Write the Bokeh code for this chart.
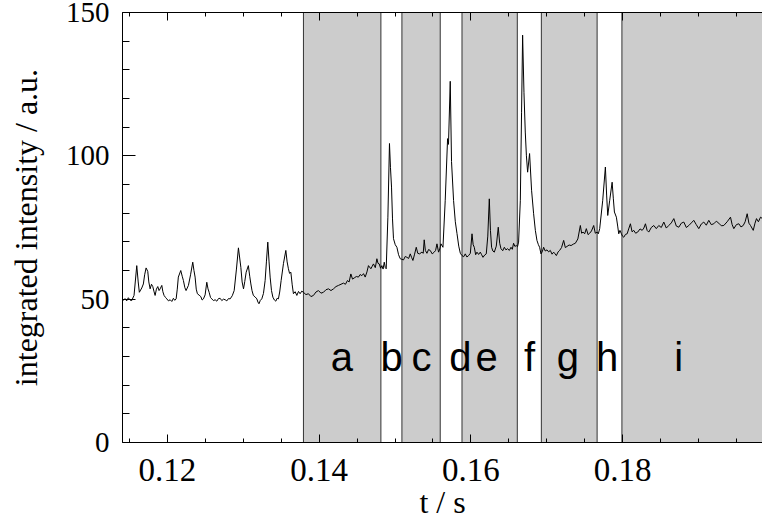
from bokeh.plotting import figure
from bokeh.models import Range1d, LinearAxis, SingleIntervalTicker
from bokeh.embed import file_html
from bokeh.resources import INLINE
from bokeh.core.properties import value

# time axis (s) and integrated intensity (a.u.)
t_s = [
    0.11397, 0.11419, 0.11441, 0.11463, 0.11485, 0.11507, 0.11529, 0.11560, 0.11596, 0.11615,
    0.11630, 0.11662, 0.11683, 0.11700, 0.11719, 0.11741, 0.11755, 0.11772, 0.11790, 0.11807,
    0.11822, 0.11838, 0.11855, 0.11873, 0.11890, 0.11904, 0.11926, 0.11940, 0.11956, 0.11975,
    0.11992, 0.12014, 0.12036, 0.12058, 0.12079, 0.12097, 0.12115, 0.12130, 0.12144, 0.12176,
    0.12195, 0.12211, 0.12230, 0.12246, 0.12277, 0.12305, 0.12334, 0.12350, 0.12365, 0.12380,
    0.12395, 0.12418, 0.12440, 0.12458, 0.12475, 0.12497, 0.12519, 0.12535, 0.12550, 0.12568,
    0.12585, 0.12607, 0.12629, 0.12651, 0.12673, 0.12695, 0.12717, 0.12739, 0.12761, 0.12783,
    0.12805, 0.12827, 0.12855, 0.12880, 0.12910, 0.12936, 0.12968, 0.12985, 0.13003, 0.13020,
    0.13038, 0.13067, 0.13085, 0.13100, 0.13115, 0.13133, 0.13155, 0.13179, 0.13193, 0.13207,
    0.13225, 0.13244, 0.13266, 0.13288, 0.13305, 0.13323, 0.13340, 0.13354, 0.13372, 0.13390,
    0.13410, 0.13429, 0.13446, 0.13463, 0.13480, 0.13499, 0.13530, 0.13561, 0.13578, 0.13595,
    0.13610, 0.13627, 0.13645, 0.13661, 0.13684, 0.13706, 0.13728, 0.13749, 0.13771, 0.13793,
    0.13826, 0.13859, 0.13892, 0.13925, 0.13958, 0.13991, 0.14024, 0.14057, 0.14090, 0.14123,
    0.14156, 0.14189, 0.14222, 0.14255, 0.14288, 0.14321, 0.14347, 0.14373, 0.14395, 0.14418,
    0.14440, 0.14462, 0.14490, 0.14518, 0.14540, 0.14563, 0.14585, 0.14607, 0.14630, 0.14650,
    0.14682, 0.14700, 0.14716, 0.14740, 0.14761, 0.14776, 0.14792, 0.14810, 0.14827, 0.14843,
    0.14858, 0.14872, 0.14884, 0.14906, 0.14927, 0.14940, 0.14954, 0.14967, 0.14980, 0.15003,
    0.15025, 0.15047, 0.15069, 0.15090, 0.15112, 0.15135, 0.15157, 0.15180, 0.15201, 0.15218,
    0.15236, 0.15258, 0.15280, 0.15300, 0.15323, 0.15355, 0.15372, 0.15385, 0.15400, 0.15421,
    0.15442, 0.15464, 0.15490, 0.15517, 0.15535, 0.15553, 0.15574, 0.15590, 0.15606, 0.15632,
    0.15662, 0.15693, 0.15705, 0.15728, 0.15745, 0.15772, 0.15795, 0.15817, 0.15840, 0.15861,
    0.15883, 0.15905, 0.15926, 0.15948, 0.15970, 0.15993, 0.16015, 0.16030, 0.16045, 0.16063,
    0.16080, 0.16102, 0.16124, 0.16142, 0.16160, 0.16182, 0.16203, 0.16223, 0.16243, 0.16258,
    0.16273, 0.16290, 0.16309, 0.16335, 0.16361, 0.16380, 0.16397, 0.16420, 0.16441, 0.16462,
    0.16484, 0.16507, 0.16529, 0.16546, 0.16563, 0.16580, 0.16599, 0.16615, 0.16629, 0.16652,
    0.16668, 0.16682, 0.16700, 0.16717, 0.16732, 0.16748, 0.16774, 0.16800, 0.16827, 0.16850,
    0.16871, 0.16890, 0.16906, 0.16924, 0.16940, 0.16959, 0.16980, 0.17004, 0.17025, 0.17047,
    0.17070, 0.17091, 0.17110, 0.17127, 0.17150, 0.17170, 0.17195, 0.17223, 0.17245, 0.17268,
    0.17295, 0.17321, 0.17350, 0.17377, 0.17410, 0.17443, 0.17460, 0.17479, 0.17500, 0.17522,
    0.17545, 0.17566, 0.17590, 0.17619, 0.17640, 0.17664, 0.17680, 0.17698, 0.17738, 0.17773,
    0.17790, 0.17804, 0.17830, 0.17862, 0.17878, 0.17892, 0.17918, 0.17935, 0.17949, 0.17965,
    0.17981, 0.17998, 0.18015, 0.18038, 0.18060, 0.18080, 0.18103, 0.18125, 0.18147, 0.18172,
    0.18199, 0.18230, 0.18258, 0.18280, 0.18301, 0.18323, 0.18345, 0.18378, 0.18411, 0.18444,
    0.18477, 0.18510, 0.18543, 0.18576, 0.18609, 0.18642, 0.18675, 0.18708, 0.18741, 0.18774,
    0.18807, 0.18840, 0.18873, 0.18906, 0.18938, 0.18971, 0.19004, 0.19037, 0.19070, 0.19103,
    0.19136, 0.19169, 0.19202, 0.19235, 0.19268, 0.19301, 0.19334, 0.19378, 0.19422, 0.19444,
    0.19466, 0.19500, 0.19532, 0.19560, 0.19590, 0.19615, 0.19642, 0.19665, 0.19686, 0.19722,
    0.19745, 0.19765, 0.19790, 0.19818, 0.19844,
]
intensity = [
    50.7, 49.6, 50.2, 49.4, 50.5, 49.7, 49.5, 51.3, 61.7, 56.0,
    52.4, 53.9, 55.3, 58.5, 60.9, 59.7, 56.0, 53.6, 55.2, 54.4,
    52.8, 51.3, 53.5, 54.4, 53.0, 53.6, 54.8, 52.6, 51.3, 50.6,
    50.1, 49.4, 49.8, 49.2, 50.3, 49.6, 50.1, 53.5, 57.7, 60.0,
    58.0, 56.5, 54.0, 53.0, 54.8, 58.5, 62.9, 60.0, 57.7, 53.5,
    51.9, 51.4, 50.9, 49.7, 50.1, 51.5, 55.9, 53.6, 52.4, 50.6,
    50.1, 49.5, 49.8, 49.3, 50.2, 50.3, 49.5, 50.0, 49.8, 49.4,
    50.2, 50.1, 51.2, 53.0, 60.5, 67.9, 61.1, 56.0, 53.6, 56.2,
    59.4, 61.7, 58.0, 55.3, 53.0, 51.3, 50.8, 50.1, 49.0, 48.4,
    49.6, 50.1, 52.0, 56.5, 63.0, 69.9, 63.0, 57.7, 53.0, 50.7,
    49.7, 49.3, 50.3, 50.1, 52.5, 56.5, 62.5, 67.0, 63.0, 60.6,
    59.0, 59.4, 55.0, 51.9, 52.6, 51.3, 52.7, 51.9, 52.8, 52.4,
    51.6, 51.9, 50.9, 51.3, 52.5, 53.0, 52.1, 52.4, 53.3, 53.6,
    53.0, 53.6, 54.4, 54.8, 55.2, 55.6, 55.2, 56.5, 56.0, 58.8,
    57.0, 57.4, 57.9, 57.7, 58.6, 58.2, 58.9, 57.7, 59.5, 61.7,
    60.6, 61.5, 62.3, 61.0, 64.1, 62.5, 62.3, 60.8, 61.7, 60.5,
    62.9, 61.0, 60.6, 78.6, 104.3, 96.0, 89.1, 78.0, 71.1, 69.0,
    68.1, 65.5, 64.1, 63.9, 63.7, 64.9, 64.6, 64.2, 65.8, 64.6,
    63.5, 65.7, 68.1, 66.0, 65.8, 66.4, 66.0, 70.7, 67.0, 66.0,
    67.3, 67.0, 65.8, 66.4, 67.0, 69.3, 66.4, 67.5, 69.3, 68.1,
    84.5, 106.0, 104.0, 126.0, 98.0, 84.4, 77.0, 72.9, 68.5, 66.0,
    65.2, 64.8, 65.8, 64.7, 65.2, 66.0, 72.8, 69.0, 68.1, 65.5,
    66.4, 65.6, 66.4, 65.5, 64.6, 65.4, 65.8, 72.0, 85.0, 74.0,
    68.1, 66.8, 66.4, 68.5, 75.1, 69.5, 67.6, 66.9, 68.1, 67.2,
    67.6, 67.0, 68.1, 67.4, 69.5, 68.4, 68.7, 68.3, 69.9, 84.5,
    115.0, 142.1, 122.0, 108.3, 100.0, 94.3, 100.8, 88.0, 79.8, 74.0,
    70.5, 69.0, 68.1, 65.8, 66.5, 68.1, 66.8, 67.2, 66.5, 67.0,
    65.7, 66.4, 65.8, 65.2, 66.5, 67.0, 68.0, 70.5, 68.0, 68.4,
    68.9, 68.7, 69.2, 69.5, 71.0, 75.7, 73.0, 73.4, 72.8, 74.6,
    72.5, 73.0, 73.8, 75.7, 73.0, 73.4, 72.8, 74.6, 84.5, 96.1,
    86.0, 79.2, 84.5, 90.8, 85.0, 80.4, 78.6, 75.5, 72.8, 74.0,
    73.0, 72.0, 71.6, 72.6, 72.8, 74.5, 76.3, 73.5, 74.0, 73.0,
    73.4, 74.5, 74.0, 74.8, 76.3, 74.0, 73.4, 75.0, 75.7, 74.6,
    75.7, 75.0, 76.9, 74.8, 75.7, 76.6, 78.1, 75.5, 75.1, 76.5,
    76.9, 75.0, 75.7, 76.6, 77.5, 76.0, 74.6, 76.2, 76.9, 75.8,
    77.5, 76.0, 76.3, 77.2, 76.5, 75.6, 75.7, 77.0, 78.6, 76.0,
    74.6, 76.0, 76.3, 75.2, 75.7, 77.0, 79.8, 76.5, 75.7, 74.0,
    76.5, 78.1, 77.0, 78.6, 78.1,
]

# shaded intervals (a, c, e, g, i)
region_start = [0.13793, 0.15091, 0.15883, 0.16929, 0.17991]
region_end = [0.14814, 0.15596, 0.16612, 0.17664, 0.20000]

# interval labels
label_text = ["a", "b", "c", "d", "e", "f", "g", "h", "i"]
label_t = [0.14299, 0.14954, 0.15348, 0.15860, 0.16208, 0.16774, 0.17280, 0.17795, 0.18740]
label_y = [30.0, 30.0, 30.0, 30.0, 30.0, 30.0, 30.0, 30.0, 30.0]

x_lo, x_hi = 0.11408, 0.19844
y_lo, y_hi = 0.0, 150.0

p = figure(width=762, height=524, output_backend="svg", toolbar_location=None,
           x_range=Range1d(x_lo, x_hi), y_range=Range1d(y_lo, y_hi),
           min_border_left=122, min_border_right=0, min_border_top=12, min_border_bottom=82,
           background_fill_color="white", border_fill_color="white")
p.outline_line_color = None
p.xgrid.visible = False
p.ygrid.visible = False

p.quad(left=region_start, right=region_end, bottom=y_lo, top=y_hi,
       fill_color="#cccccc", line_color="#333333", line_width=1)
p.line(t_s, intensity, line_color="black", line_width=1)
p.text(x=label_t, y=label_y, text=label_text, text_font=value("Liberation Sans"),
       text_font_size="40px", text_align="center", text_baseline="middle",
       text_color="black")

serif = "Liberation Serif"
xa = p.xaxis[0]
xa.ticker = SingleIntervalTicker(interval=0.02, num_minor_ticks=4)
xa.major_tick_in = 8
xa.major_tick_out = 0
xa.minor_tick_in = 4
xa.minor_tick_out = 0
xa.major_label_text_font = serif
xa.major_label_text_font_size = "33px"
xa.major_label_standoff = 16
xa.axis_label = "t / s"
xa.axis_label_text_font = serif
xa.axis_label_text_font_size = "32px"
xa.axis_label_text_font_style = "normal"
xa.axis_label_standoff = 0

ya = p.yaxis[0]
ya.ticker = SingleIntervalTicker(interval=50, num_minor_ticks=5)
ya.major_tick_in = 13
ya.major_tick_out = 0
ya.minor_tick_in = 7
ya.minor_tick_out = 0
ya.major_label_text_font = serif
ya.major_label_text_font_size = "29px"
ya.major_label_standoff = 13
ya.axis_label = "integrated intensity / a.u."
ya.axis_label_text_font = serif
ya.axis_label_text_font_size = "32px"
ya.axis_label_text_font_style = "normal"
ya.axis_label_standoff = 19

for ax in (xa, ya):
    ax.major_label_text_color = "black"
    ax.axis_label_text_color = "black"

top = LinearAxis(ticker=SingleIntervalTicker(interval=0.02, num_minor_ticks=4),
                 major_tick_in=8, major_tick_out=0, minor_tick_in=4, minor_tick_out=0,
                 major_label_standoff=0, major_label_text_color=None)
p.add_layout(top, "above")

for ax in (xa, ya, top):
    ax.axis_line_color = "black"
    ax.major_tick_line_color = "black"
    ax.minor_tick_line_color = "black"

open("out.html", "w").write(file_html(p, INLINE))
